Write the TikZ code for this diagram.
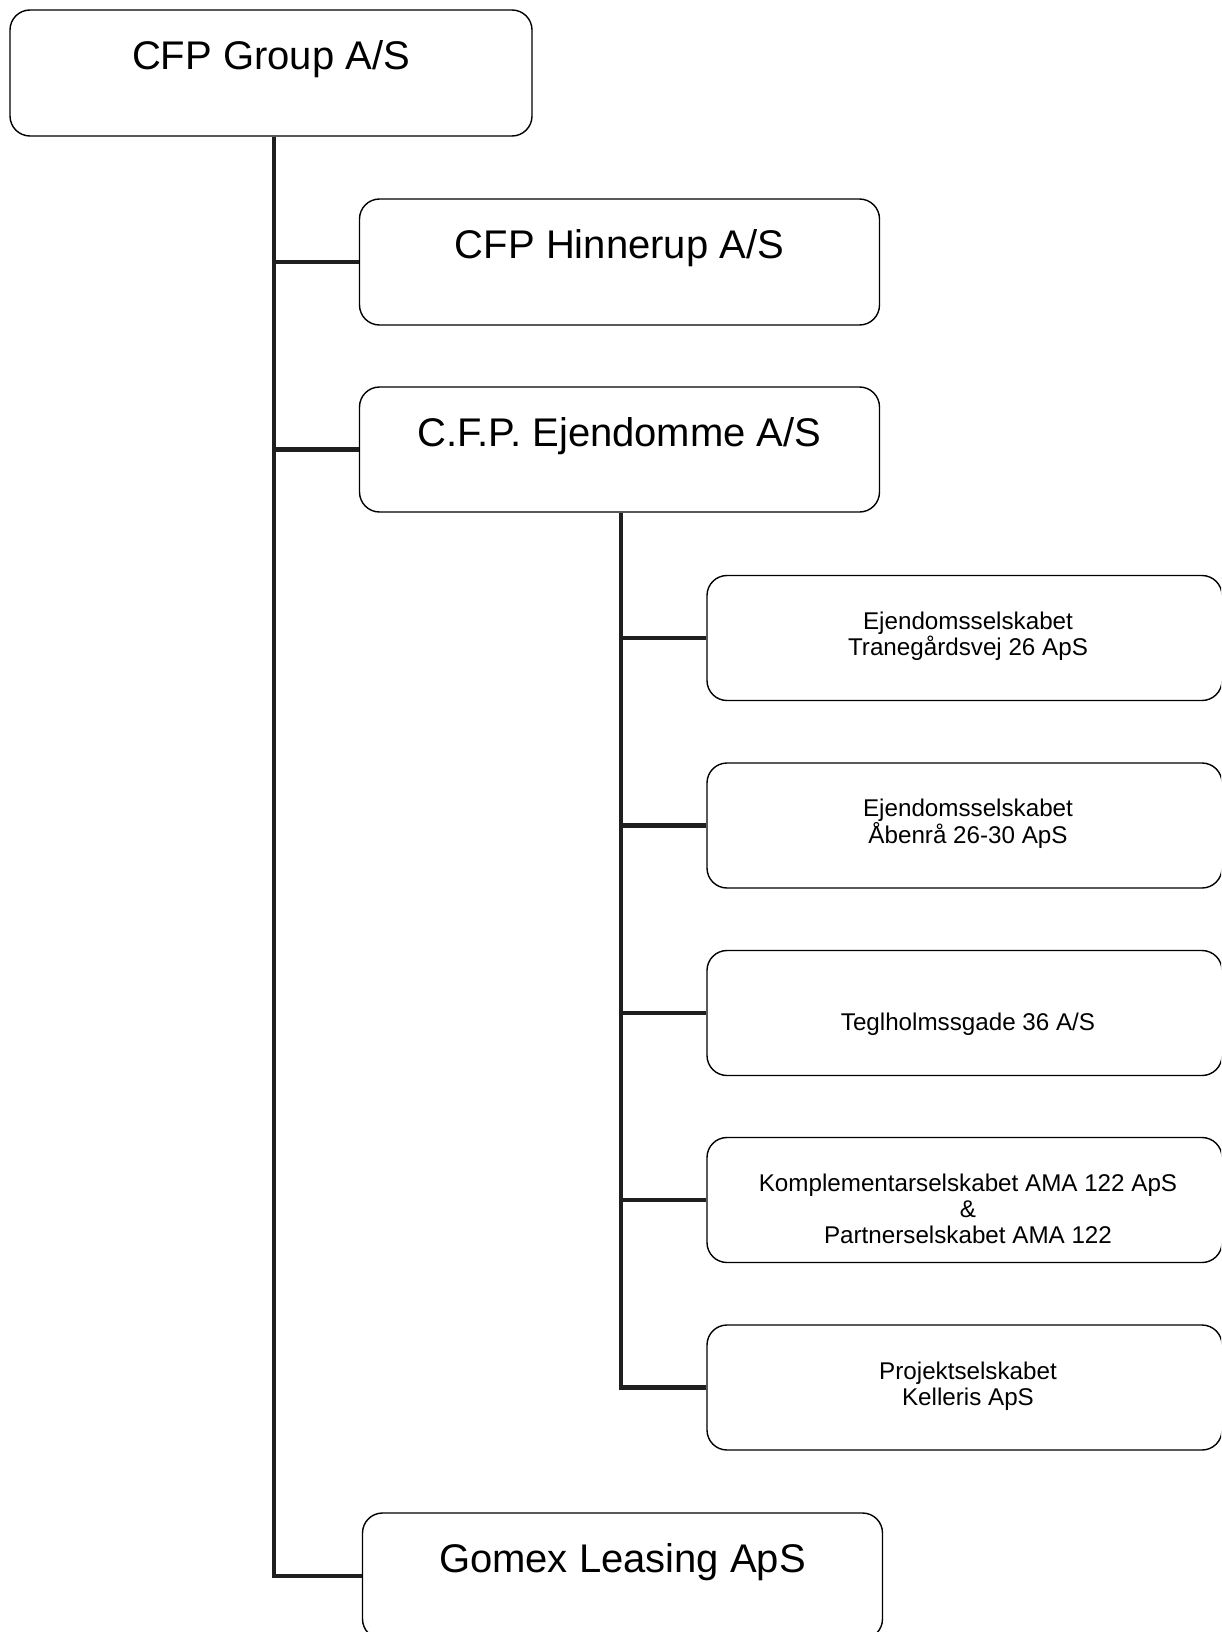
\documentclass[tikz,border=0pt]{standalone}
\usepackage{fontspec}
\setmainfont{Liberation Sans}
\usetikzlibrary{calc}
\begin{document}
\begin{tikzpicture}[x=1pt,y=-1pt,
  box/.style={draw=black, line width=1.4pt, rounded corners=20pt, minimum height=126pt, inner sep=0pt},
  bigbox/.style={box, minimum width=520pt},
  smallbox/.style={box, minimum width=515pt, minimum height=125pt},
  bigtext/.style={font=\fontsize{40}{48}\selectfont, anchor=base, inner sep=0pt},
  smalltext/.style={font=\fontsize{24.2}{26}\selectfont, align=center, anchor=base, inner sep=0pt},
  link/.style={line width=4.4pt, draw=black!88}]
\useasboundingbox (0,0) rectangle (1221,1632);
\clip (0,0) rectangle (1221,1632);

% boxes
\node[box, minimum width=522pt] (top) at (271,73) {};
\node[bigbox] (hin) at (619.5,262) {};
\node[bigbox, minimum height=125pt] (ejd) at (619.5,449.5) {};
\node[bigbox] (gom) at (622.5,1576) {};
\node[smallbox] (s1) at (964.5,638) {};
\node[smallbox] (s2) at (964.5,825.5) {};
\node[smallbox] (s3) at (964.5,1013) {};
\node[smallbox] (s4) at (964.5,1200) {};
\node[smallbox] (s5) at (964.5,1387.5) {};

% texts (base anchor = baseline of the last line)
\node[bigtext] (ttop) at ($(top.north)+(0,60.5)$) {CFP Group A/S};
\node[bigtext] (thin) at ($(hin.north)+(0,60.5)$) {CFP Hinnerup A/S};
\node[bigtext] (tejd) at ($(ejd.north)+(0,60.5)$) {C.F.P. Ejendomme A/S};
\node[bigtext] (tgom) at ($(gom.north)+(0,60.5)$) {Gomex Leasing ApS};
\node[smalltext] (t1) at ($(s1.north)+(3.5,81)$) {Ejendomsselskabet\\Tranegårdsvej 26 ApS};
\node[smalltext] (t2) at ($(s2.north)+(3.5,81)$) {Ejendomsselskabet\\Åbenrå 26-30 ApS};
\node[smalltext] (t3) at ($(s3.north)+(3.5,81)$) {Teglholmssgade 36 A/S};
\node[smalltext] (t4) at ($(s4.north)+(3.5,107)$) {Komplementarselskabet AMA 122 ApS\\\&\\Partnerselskabet AMA 122};
\node[smalltext] (t5) at ($(s5.north)+(3.5,81)$) {Projektselskabet\\Kelleris ApS};

% connectors
\draw[link] ([xshift=3pt]top.south) |- (hin.west);
\draw[link] ([xshift=3pt]top.south) |- (ejd.west);
\draw[link] ([xshift=3pt]top.south) |- (gom.west);
\foreach \s in {s1,s2,s3,s4,s5}
  \draw[link] ([xshift=1.5pt]ejd.south) |- (\s.west);
\end{tikzpicture}
\end{document}
